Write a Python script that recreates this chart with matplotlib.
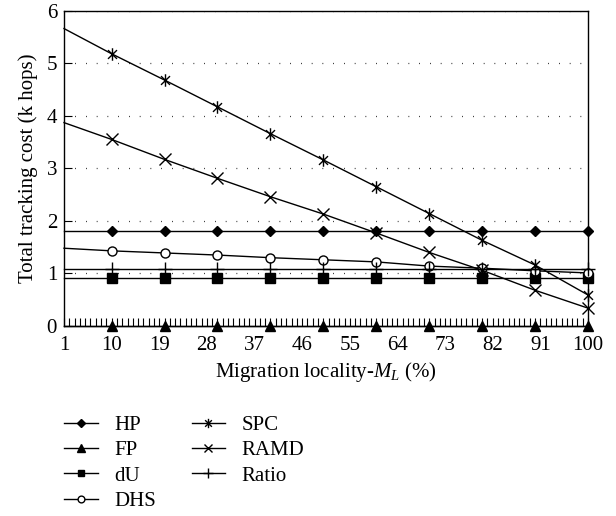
import matplotlib
matplotlib.use("Agg")
import matplotlib.pyplot as plt
from matplotlib.path import Path
from matplotlib.ticker import MultipleLocator

plt.rcParams['font.family'] = ['Liberation Serif', 'DejaVu Serif']
plt.rcParams['mathtext.fontset'] = 'custom'
plt.rcParams['mathtext.rm'] = 'Liberation Serif'
plt.rcParams['mathtext.it'] = 'Liberation Serif:italic'
plt.rcParams['font.size'] = 15

# data
x_line = [1, 10, 20, 30, 40, 50, 60, 70, 80, 90, 100]
hp = [1.80] * 11
fp = [0.0] * 11
du = [0.92] * 11
dhs = [1.48, 1.43, 1.39, 1.35, 1.30, 1.26, 1.22, 1.14, 1.10, 1.05, 1.01]
spc = [5.66, 5.18, 4.68, 4.17, 3.66, 3.16, 2.65, 2.14, 1.63, 1.16, 0.59]
ramd = [3.87, 3.55, 3.17, 2.81, 2.46, 2.13, 1.77, 1.40, 1.06, 0.68, 0.34]
ratio = [1.08] * 11
xticks = [1, 10, 19, 28, 37, 46, 55, 64, 73, 82, 91, 100]
series_names = ['HP', 'FP', 'dU', 'DHS', 'SPC', 'RAMD', 'Ratio']

asterisk = Path([(0, -1), (0, 1), (-0.72, -0.7), (0.72, 0.7), (-0.72, 0.7), (0.72, -0.7)],
                [Path.MOVETO, Path.LINETO] * 3)

fig = plt.figure(figsize=(6.16, 5.16), dpi=100)
ax = fig.add_axes([64/616, 1 - 326/516, (588 - 64)/616, (326 - 10.7)/516])

styles = [
    (hp, dict(marker='D', markersize=5.5, markerfacecolor='black')),
    (fp, dict(marker='^', markersize=7.5, markerfacecolor='black')),
    (du, dict(marker='s', markersize=6.5, markerfacecolor='black')),
    (dhs, dict(marker='o', markersize=6.5, markerfacecolor='white')),
    (spc, dict(marker=asterisk, markersize=9, markeredgewidth=1.0)),
    (ramd, dict(marker='x', markersize=8, markeredgewidth=1.0)),
    (ratio, dict(marker='+', markersize=10, markeredgewidth=1.0)),
]

handles = []
for (vals, st), name in zip(styles, series_names):
    h, = ax.plot(x_line, vals, color='black', linewidth=1.0, markevery=list(range(1, 11)),
                 markeredgecolor='black', clip_on=False, label=name, zorder=3, **st)
    handles.append(h)

ax.set_xlim(1, 100)
ax.set_ylim(0, 6)
ax.set_xticks(xticks)
ax.xaxis.set_minor_locator(MultipleLocator(1))
ax.set_yticks(range(0, 7))
ax.tick_params(axis='x', which='both', direction='in', length=6, width=0.8, top=False, pad=7)
ax.tick_params(axis='y', which='both', direction='in', length=6, width=0.8, right=False, pad=5)
for y in range(1, 7):
    ax.axhline(y, color='black', linewidth=0.9, linestyle=(0, (0.6, 8)), zorder=1)
for s in ax.spines.values():
    s.set_linewidth(1.0)

ax.set_xlabel('Migration locality-$M_L$ (%)', labelpad=4)
ax.set_ylabel('Total tracking cost (k hops)', labelpad=6)

fig.legend(handles=handles, labels=series_names, ncol=2, frameon=False,
           loc='upper left', bbox_to_anchor=(56/616, 1 - 407/516),
           handlelength=1.6, handletextpad=0.8, labelspacing=0.28, columnspacing=1.7,
           markerscale=0.75, borderaxespad=0)

fig.savefig('out.png', dpi=100)
